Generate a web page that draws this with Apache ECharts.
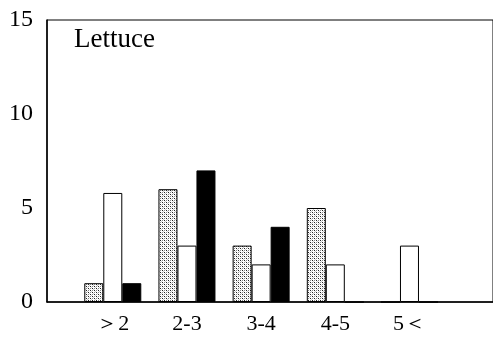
<!DOCTYPE html>
<html><head><meta charset="utf-8">
<script src="https://cdn.jsdelivr.net/npm/echarts@6/dist/echarts.min.js"></script>
<style>html,body{margin:0;padding:0;background:#fff}#c{width:493px;height:337px}</style>
</head><body><div id="c"></div>
<script>
const categories = ['＞2', '2-3', '3-4', '4-5', '5＜'];
const stippled = [1, 6, 3, 5, 0];
const white = [5.8, 3, 2, 2, 3];
const black = [1, 7, 4, 0, 0];
const yTicks = [0, 5, 10, 15];
const title = 'Lettuce';

const pc = document.createElement('canvas');
pc.width = 4; pc.height = 4;
const g = pc.getContext('2d');
g.fillStyle = '#fff'; g.fillRect(0, 0, 4, 4);
g.fillStyle = '#222';
g.fillRect(0, 0, 1, 1); g.fillRect(2, 2, 1, 1);
g.fillStyle = '#888';
g.fillRect(2, 0, 1, 1); g.fillRect(0, 2, 1, 1);
g.fillStyle = '#ccc';
g.fillRect(1, 1, 1, 1); g.fillRect(3, 3, 1, 1);

const FONT = 'Liberation Serif';
const toPairs = arr => arr.map((v, i) => [i, v]);

const chart = echarts.init(document.getElementById('c'), null, {renderer: 'canvas'});
const barBase = {
  type: 'bar', barWidth: 19, barGap: '0%', animation: false,
};
chart.setOption({
  backgroundColor: '#fff',
  title: {
    text: title, left: 69, top: 21,
    textStyle: {fontFamily: FONT, fontSize: 27, fontWeight: 'normal', color: '#000'}
  },
  grid: {left: 47, right: -5, top: 20, bottom: 35, show: true, borderColor: '#000', borderWidth: 1, backgroundColor: 'transparent'},
  xAxis: {
    type: 'value', min: -0.887, max: 5.126,
    splitLine: {show: false},
    axisLine: {show: true, onZero: false, lineStyle: {color: '#000', width: 1.5}},
    axisTick: {show: false},
    axisLabel: {
      customValues: categories.map((c, i) => i),
      formatter: v => categories[Math.round(v)] || '',
      fontFamily: FONT, fontSize: 22, color: '#000', margin: 11
    }
  },
  yAxis: {
    type: 'value', min: 0, max: 15, interval: 5,
    splitLine: {show: false},
    axisLine: {show: true, onZero: false, lineStyle: {color: '#000', width: 1.5}},
    axisTick: {show: false},
    axisLabel: {
      customValues: yTicks,
      fontFamily: FONT, fontSize: 24, color: '#000', margin: 14
    }
  },
  series: [
    Object.assign({}, barBase, {name: 'stippled', data: toPairs(stippled),
      itemStyle: {color: {image: pc, repeat: 'repeat'}, borderColor: '#000', borderWidth: 1}}),
    Object.assign({}, barBase, {name: 'white', data: toPairs(white),
      itemStyle: {color: '#fff', borderColor: '#000', borderWidth: 1}}),
    Object.assign({}, barBase, {name: 'black', data: toPairs(black),
      itemStyle: {color: '#000', borderColor: '#000', borderWidth: 1}})
  ]
});
</script></body></html>
